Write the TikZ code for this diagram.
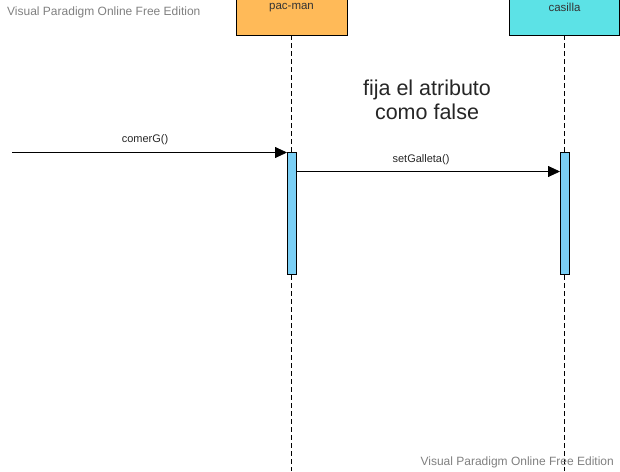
\documentclass[tikz,border=0pt]{standalone}
\usepackage{fontspec}
\setmainfont{Liberation Sans}
\usetikzlibrary{arrows.meta}
\definecolor{pacorange}{HTML}{FFBA58}
\definecolor{casillacyan}{HTML}{5CE2E6}
\definecolor{actblue}{HTML}{7ACFF5}
\definecolor{wmgray}{HTML}{808080}
\tikzset{
  x=1pt, y=-1pt,
  lifeline/.style={draw=black, line width=0.7pt, dash pattern=on 5pt off 3pt},
  actbox/.style={draw=black, line width=0.8pt, fill=actblue},
  msg/.style={draw=black, line width=0.8pt, -{Triangle[length=12pt,width=11pt]}},
  msglabel/.style={font=\fontsize{11}{13}\selectfont, text=black!85, inner sep=1pt},
  objlabel/.style={font=\fontsize{11.5}{13}\selectfont, text=black!80, inner sep=0pt},
  wm/.style={font=\fontsize{12}{14}\selectfont, text=wmgray, inner sep=0pt}
}
\begin{document}
\begin{tikzpicture}
\useasboundingbox (0,0) rectangle (620,471);
% lifelines
\coordinate (pacTop) at (291.5,35);
\coordinate (pacBot) at (291.5,471);
\coordinate (casTop) at (564.5,35);
\coordinate (casBot) at (564.5,471);
\draw[lifeline] (pacTop) -- (pacBot);
\draw[lifeline] (casTop) -- (casBot);
% object boxes
\fill[pacorange, draw=black, line width=0.8pt] (236,-3) rectangle (347,35);
\node[objlabel] (pac) at (291.5,7.5) {pac-man};
\fill[casillacyan, draw=black, line width=0.8pt] (509,-3) rectangle (619,35);
\node[objlabel] (cas) at (564.5,7.5) {casilla};
% activations
\draw[actbox] (287,152) rectangle (296,274);
\coordinate (pacActL) at (287,152);
\coordinate (pacActR) at (296,171.5);
\draw[actbox] (560,152) rectangle (569,274);
\coordinate (casActL) at (560,171.5);
% messages
\coordinate (start) at (12,152.5);
\draw[msg] (start) -- (pacActL |- start);
\node[msglabel] (m1) at (145,140) {comerG()};
\draw[msg] (pacActR) -- (casActL);
\node[msglabel] (m2) at (421,159.5) {setGalleta()};
% note text
\node[font=\fontsize{21.5}{24}\selectfont, text=black!85, align=center] (note) at (427,100) {fija el atributo\\como false};
% watermarks
\node[wm, anchor=west] (wm1) at (7,12) {Visual Paradigm Online Free Edition};
\node[wm, anchor=east] (wm2) at (614,462) {Visual Paradigm Online Free Edition};
\end{tikzpicture}
\end{document}
